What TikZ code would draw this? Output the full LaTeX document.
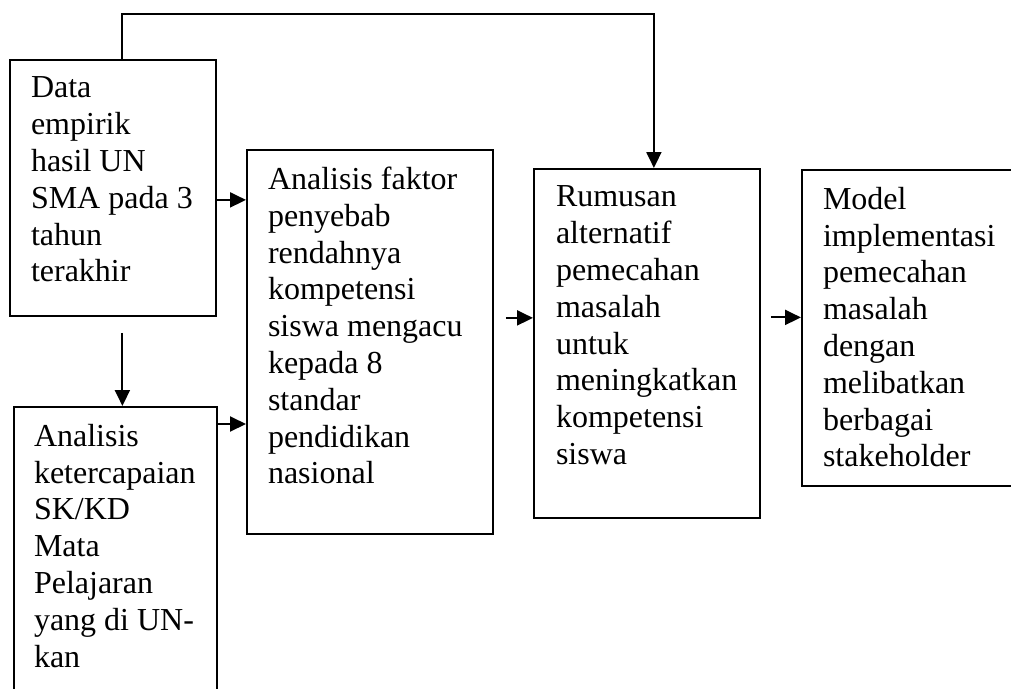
\documentclass[tikz,border=0pt]{standalone}
\usepackage{fontspec}
\setmainfont{Liberation Serif}
\usetikzlibrary{arrows.meta}

\begin{document}
\begin{tikzpicture}[x=1pt,y=-1pt,line width=2pt,
  >={Triangle[length=16pt,width=15pt]},
  box/.style={draw,line width=1.8pt,anchor=north west,inner sep=0pt},
  txt/.style={anchor=north west,align=left,inner sep=0pt,
    font=\fontsize{32}{36.8}\selectfont,execute at begin node=\strut}]
\path[use as bounding box,clip] (0,0) rectangle (1011,688);
\node[box,minimum width=206pt,minimum height=256pt] (data) at (9,59) {};
\node[box,minimum width=203pt,minimum height=300pt] (mapel) at (13,406) {};
\node[box,minimum width=246pt,minimum height=384pt] (faktor) at (246,149) {};
\node[box,minimum width=226pt,minimum height=349pt] (rumusan) at (533,168) {};
\node[box,minimum width=229pt,minimum height=316pt] (model) at (801,169) {};
\node[txt] (data-t) at ([shift={(21,17)}]data.north west) {Data\\empirik\\hasil UN\\SMA pada 3\\tahun\\terakhir};
\node[txt] (mapel-t) at ([shift={(20,17)}]mapel.north west) {Analisis\\ketercapaian\\SK/KD\\Mata\\Pelajaran\\yang di UN-\\kan};
\node[txt] (faktor-t) at ([shift={(21,17)}]faktor.north west) {Analisis faktor\\penyebab\\rendahnya\\kompetensi\\siswa mengacu\\kepada 8\\standar\\pendidikan\\nasional};
\node[txt] (rumusan-t) at ([shift={(22,17)}]rumusan.north west) {Rumusan\\alternatif\\pemecahan\\masalah\\untuk\\meningkatkan\\kompetensi\\siswa};
\node[txt] (model-t) at ([shift={(21,17)}]model.north west) {Model\\implementasi\\pemecahan\\masalah\\dengan\\melibatkan\\berbagai\\stakeholder};
\coordinate (a1) at ([yshift=-12pt]data.east);
\coordinate (d1) at ([xshift=9.5pt,yshift=-16pt]data.south);
\coordinate (e1) at ([yshift=-18pt]mapel.north east);
\coordinate (b1) at ([shift={(12,-24)}]faktor.east);
\coordinate (c1) at ([shift={(10,-26)}]rumusan.east);
\draw[->] ([xshift=9.5pt]data.north) -- ++(0,-45) -| ([xshift=7pt]rumusan.north);
\draw[->] (a1) -- (a1 -| faktor.west);
\draw[->] (d1) -- (d1 |- mapel.north);
\draw[->] (e1) -- (e1 -| faktor.west);
\draw[->] (b1) -- (b1 -| rumusan.west);
\draw[->] (c1) -- (c1 -| model.west);
\end{tikzpicture}
\end{document}
